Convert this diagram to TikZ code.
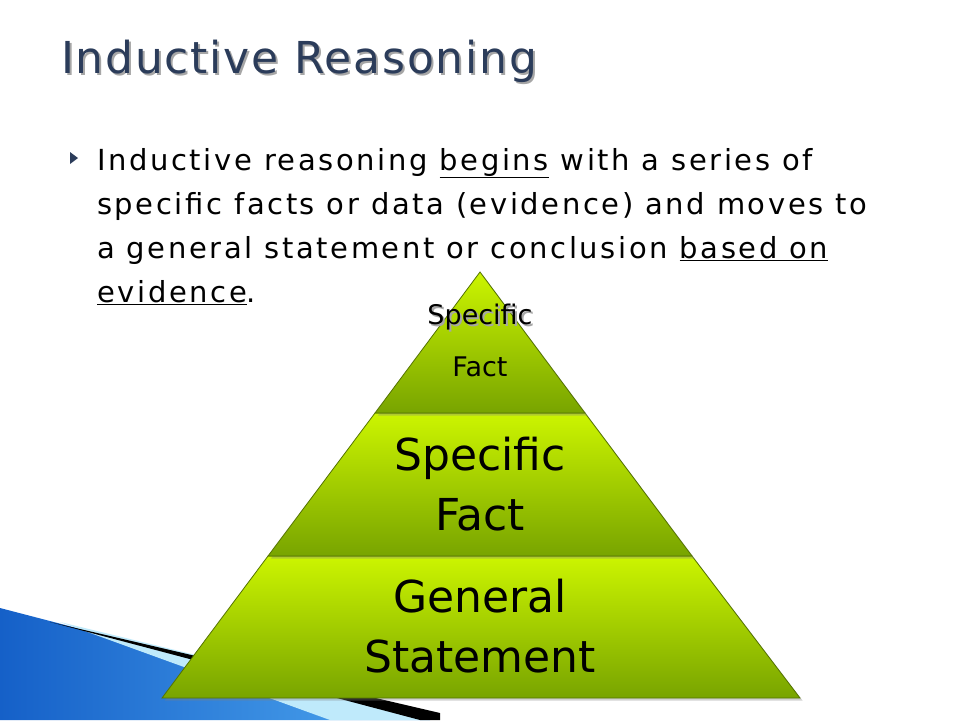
\documentclass[tikz,border=0pt]{standalone}
\usepackage{fontspec}
\setmainfont{DejaVu Sans}
\newfontfamily\spaced[LetterSpace=9]{DejaVu Sans}
\newfontfamily\tspaced[LetterSpace=4]{DejaVu Sans}
\usetikzlibrary{shadows}
\definecolor{titleblue}{HTML}{2B3C5A}
\definecolor{lgreen}{HTML}{CCF500}
\definecolor{dgreen}{HTML}{78A400}
\definecolor{deepblue}{HTML}{1560C8}
\definecolor{skyblue}{HTML}{4FA8F0}
\tikzset{
  tier/.style={draw=dgreen!70!black, line width=0.8pt, top color=lgreen, bottom color=dgreen},
  body/.style={anchor=base west, inner sep=0pt, font=\spaced\fontsize{29}{29}\selectfont, text=black},
  big/.style={font=\fontsize{44}{60}\selectfont, align=center, text=black},
}
\newcommand{\ul}[1]{\underline{#1}}
\begin{document}
\begin{tikzpicture}[x=1pt,y=-1pt]
\useasboundingbox (0,0) rectangle (960,720);
\fill[white] (0,0) rectangle (960,720);
% bottom-left decoration
\shade[left color=deepblue, right color=skyblue] (0,608) -- (430,720) -- (0,720) -- cycle;
\fill[cyan!25] (60,622) -- (430,712) -- (430,720) -- (330,720) -- cycle;
\fill[black] (50,622) -- (440,713) -- (440,720) -- (420,720) -- cycle;
% title
\node[anchor=base west, inner sep=0pt, text=black!35, font=\tspaced\fontsize{44}{44}\selectfont] at (63,75) {Inductive Reasoning};
\node[anchor=base west, inner sep=0pt, text=titleblue, font=\tspaced\fontsize{44}{44}\selectfont] (title) at (61,73) {Inductive Reasoning};
% bullet
\fill[titleblue] (70,152) -- (78,158) -- (70,164) -- cycle;
\node[body] (l1) at (97,170) {Inductive reasoning \ul{begins} with a series of};
\node[body] (l2) at (97,214) {specific facts or data (evidence) and moves to};
\node[body] (l3) at (97,258) {a general statement or conclusion \ul{based on}};
\node[body] (l4) at (97,302) {\ul{evidence}.};
% pyramid
\path[tier, drop shadow={opacity=0.35}] (162,698) -- (268,556) -- (692,556) -- (800,698) -- cycle;
\path[tier, drop shadow={opacity=0.35}] (268,556) -- (375,413) -- (585,413) -- (692,556) -- cycle;
\path[tier, drop shadow={opacity=0.35}] (375,413) -- (480,272) -- (585,413) -- cycle;
\node[font=\fontsize{27}{27}\selectfont, text=black!35] at (482,319) {Specific};
\node[font=\fontsize{27}{27}\selectfont] (t1) at (480,317) {Specific};
\node[font=\fontsize{27}{27}\selectfont] (t2) at (480,367) {Fact};
\node[big] (m) at (480,484) {Specific\\Fact};
\node[big] (g) at (480,626) {General\\Statement};
\end{tikzpicture}
\end{document}
